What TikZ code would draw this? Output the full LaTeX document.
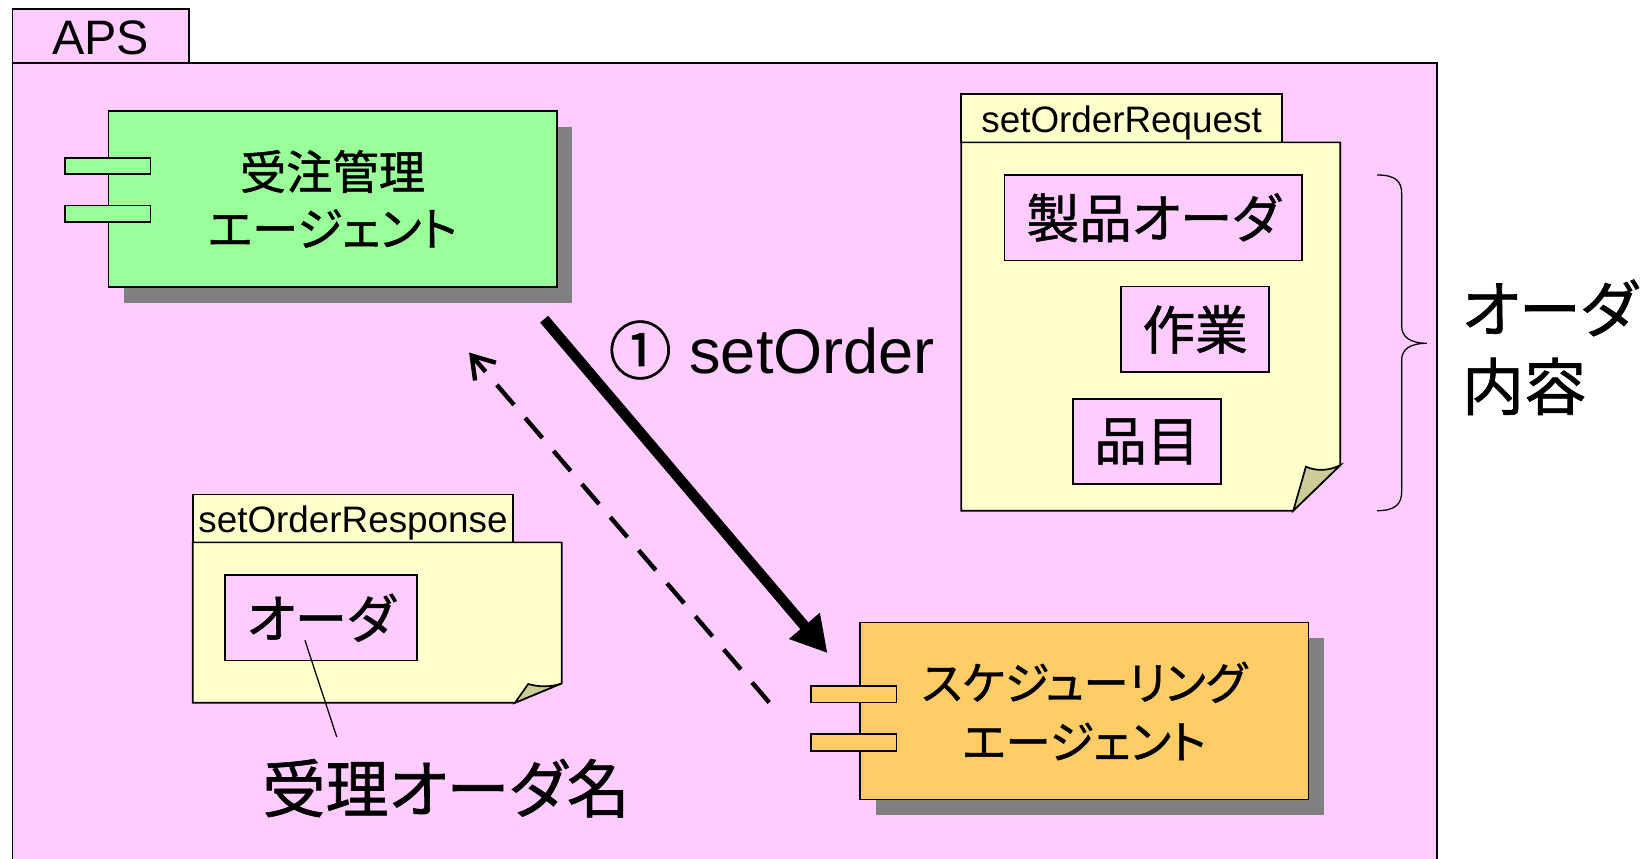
\documentclass[tikz,border=0pt]{standalone}
\usepackage{fontspec}
\setmainfont{Liberation Sans}
\newfontfamily\jp[RawFeature={+palt},FakeBold=1]{Noto Sans CJK JP}
\usetikzlibrary{arrows.meta,shadows,calc}
\definecolor{apsPink}{HTML}{FFCCFF}
\definecolor{mgrGreen}{HTML}{99FF99}
\definecolor{schedOrange}{HTML}{FFCC66}
\definecolor{docYellow}{HTML}{FFFFCC}
\definecolor{foldTan}{HTML}{CCCC99}
\definecolor{shadowGray}{HTML}{808080}
\begin{document}
\begin{tikzpicture}[x=0.5pt, y=-0.5pt,
  boxline/.style={draw=black, line width=0.8pt},
  agent/.style={boxline, inner sep=0pt, align=center,
    drop shadow={shadow xshift=7.5pt, shadow yshift=-7.5pt, fill=shadowGray, opacity=1}},
  agentport/.style={boxline, minimum width=40.7pt, minimum height=7.8pt, inner sep=0pt},
  partbox/.style={boxline, fill=apsPink, inner sep=0pt, font=\jp\fontsize{25pt}{30pt}\selectfont},
  doctab/.style={boxline, fill=docYellow, inner sep=0pt, text height=13.8pt, text depth=0pt,
    font=\fontsize{17.5pt}{21pt}\selectfont},
  docsheet/.style={boxline, fill=docYellow},
  docfold/.style={boxline, fill=foldTan},
  callarrow/.style={line width=5pt, -{Triangle[length=17pt,width=18pt]}},
  replyarrow/.style={line width=2.1pt, dash pattern=on 12.5pt off 8.2pt,
    -{Straight Barb[length=10pt,width=13pt]}},
  pointer/.style={draw=black, line width=0.6pt},
]
\fill[white] (0,0) rectangle (1568,816);
\useasboundingbox (0,0) rectangle (1568,816);
\clip (0,0) rectangle (1568,816);

% package frame with its name tab
\node[boxline, fill=apsPink, anchor=north west, minimum width=677pt, minimum height=390pt, inner sep=0pt] (aps) at (11,59) {};
\node[boxline, fill=apsPink, anchor=north west, minimum width=84pt, minimum height=25.5pt, inner sep=0pt,
  text height=17.2pt, text depth=0pt, font=\fontsize{23pt}{28pt}\selectfont] (apsTab) at (11,8) {APS};

% request document
\node[doctab, minimum width=152.35pt, minimum height=22.85pt] (reqTab) at (1065.85,112.45) {setOrderRequest};
\filldraw[docsheet] (913.5,135.3) -- (1273.7,135.3) -- (1273.7,442) -- (1229,485.3) -- (913.5,485.3) -- cycle;
\filldraw[docfold] (1229,485.3) -- (1273.7,442) .. controls (1262,448) and (1250,447.5) .. (1241,443.5) -- cycle;
\node[partbox, minimum width=141.5pt, minimum height=40.5pt] (prodOrder) at (1096,206.9) {製品オーダ};
\node[partbox, minimum width=70.35pt, minimum height=40.7pt] (operation) at (1135.75,313.1) {作業};
\node[partbox, minimum width=70.1pt, minimum height=40.65pt] (item) at (1089.9,419.55) {品目};

% brace grouping the request contents
\draw[line width=0.6pt] (1308.6,166.3) .. controls (1326,166.3) and (1332,172) .. (1332,184)
  -- (1332,310) .. controls (1332,320) and (1340,326.2) .. (1356,326.2)
  .. controls (1340,326.2) and (1332,332) .. (1332,342)
  -- (1332,467) .. controls (1332,479) and (1326,485.3) .. (1308.6,485.3);
\node[anchor=west, align=left, inner sep=0pt, font=\jp\fontsize{29.5pt}{37pt}\selectfont] (orderContent) at (1389,330) {オーダ\\内容};

% response document
\node[doctab, minimum width=152.35pt, minimum height=22.8pt] (respTab) at (335.45,492.6) {setOrderResponse};
\filldraw[docsheet] (183.1,515.4) -- (533.8,515.4) -- (533.8,649.4) -- (489.4,667.8) -- (183.1,667.8) -- cycle;
\filldraw[docfold] (489.4,667.8) -- (533.8,649.4) .. controls (524,653) and (512,653) .. (502,650) -- cycle;
\node[partbox, minimum width=91.1pt, minimum height=40.55pt] (respOrder) at (304.9,587) {オーダ};

% agents
\node[agent, fill=mgrGreen, minimum width=213pt, minimum height=83.5pt,
  font=\jp\fontsize{22pt}{27pt}\selectfont] (mgr) at (316,189) {受注管理\\エージェント};
\node[agentport, fill=mgrGreen] (mgrPortA) at ($(mgr.north west)+(0,53)$) {};
\node[agentport, fill=mgrGreen] (mgrPortB) at ($(mgr.north west)+(0,98.5)$) {};

\node[agent, fill=schedOrange, minimum width=213.25pt, minimum height=84pt,
  font=\jp\fontsize{21.5pt}{28pt}\selectfont] (sched) at (1030.25,675.65) {スケジューリング\\エージェント};
\node[agentport, fill=schedOrange] (schedPortA) at ($(sched.north west)+(-5,68.8)$) {};
\node[agentport, fill=schedOrange] (schedPortB) at ($(sched.north west)+(-5,114.7)$) {};

% messages
\draw[callarrow] ($(mgr.south east)+(-12.7,30)$) -- ($(sched.north west)+(-29.8,29.8)$);
\draw[replyarrow] ($(sched.north west)+(-85.2,76.7)$) -- ($(mgr.south east)+(-84,61.7)$);
\node[anchor=base west, inner sep=0pt, font=\fontsize{30pt}{36pt}\selectfont] (callLabel) at (578,355.4) {{\jp ①} setOrder};

% name of the accepted order
\node[inner sep=0pt, font=\jp\fontsize{30pt}{36pt}\selectfont] (respName) at (424,749) {受理オーダ名};
\draw[pointer] ($(respOrder.south)+(-15.1,-19.9)$) -- ($(respName.north)+(-104,-20.5)$);
\end{tikzpicture}
\end{document}
